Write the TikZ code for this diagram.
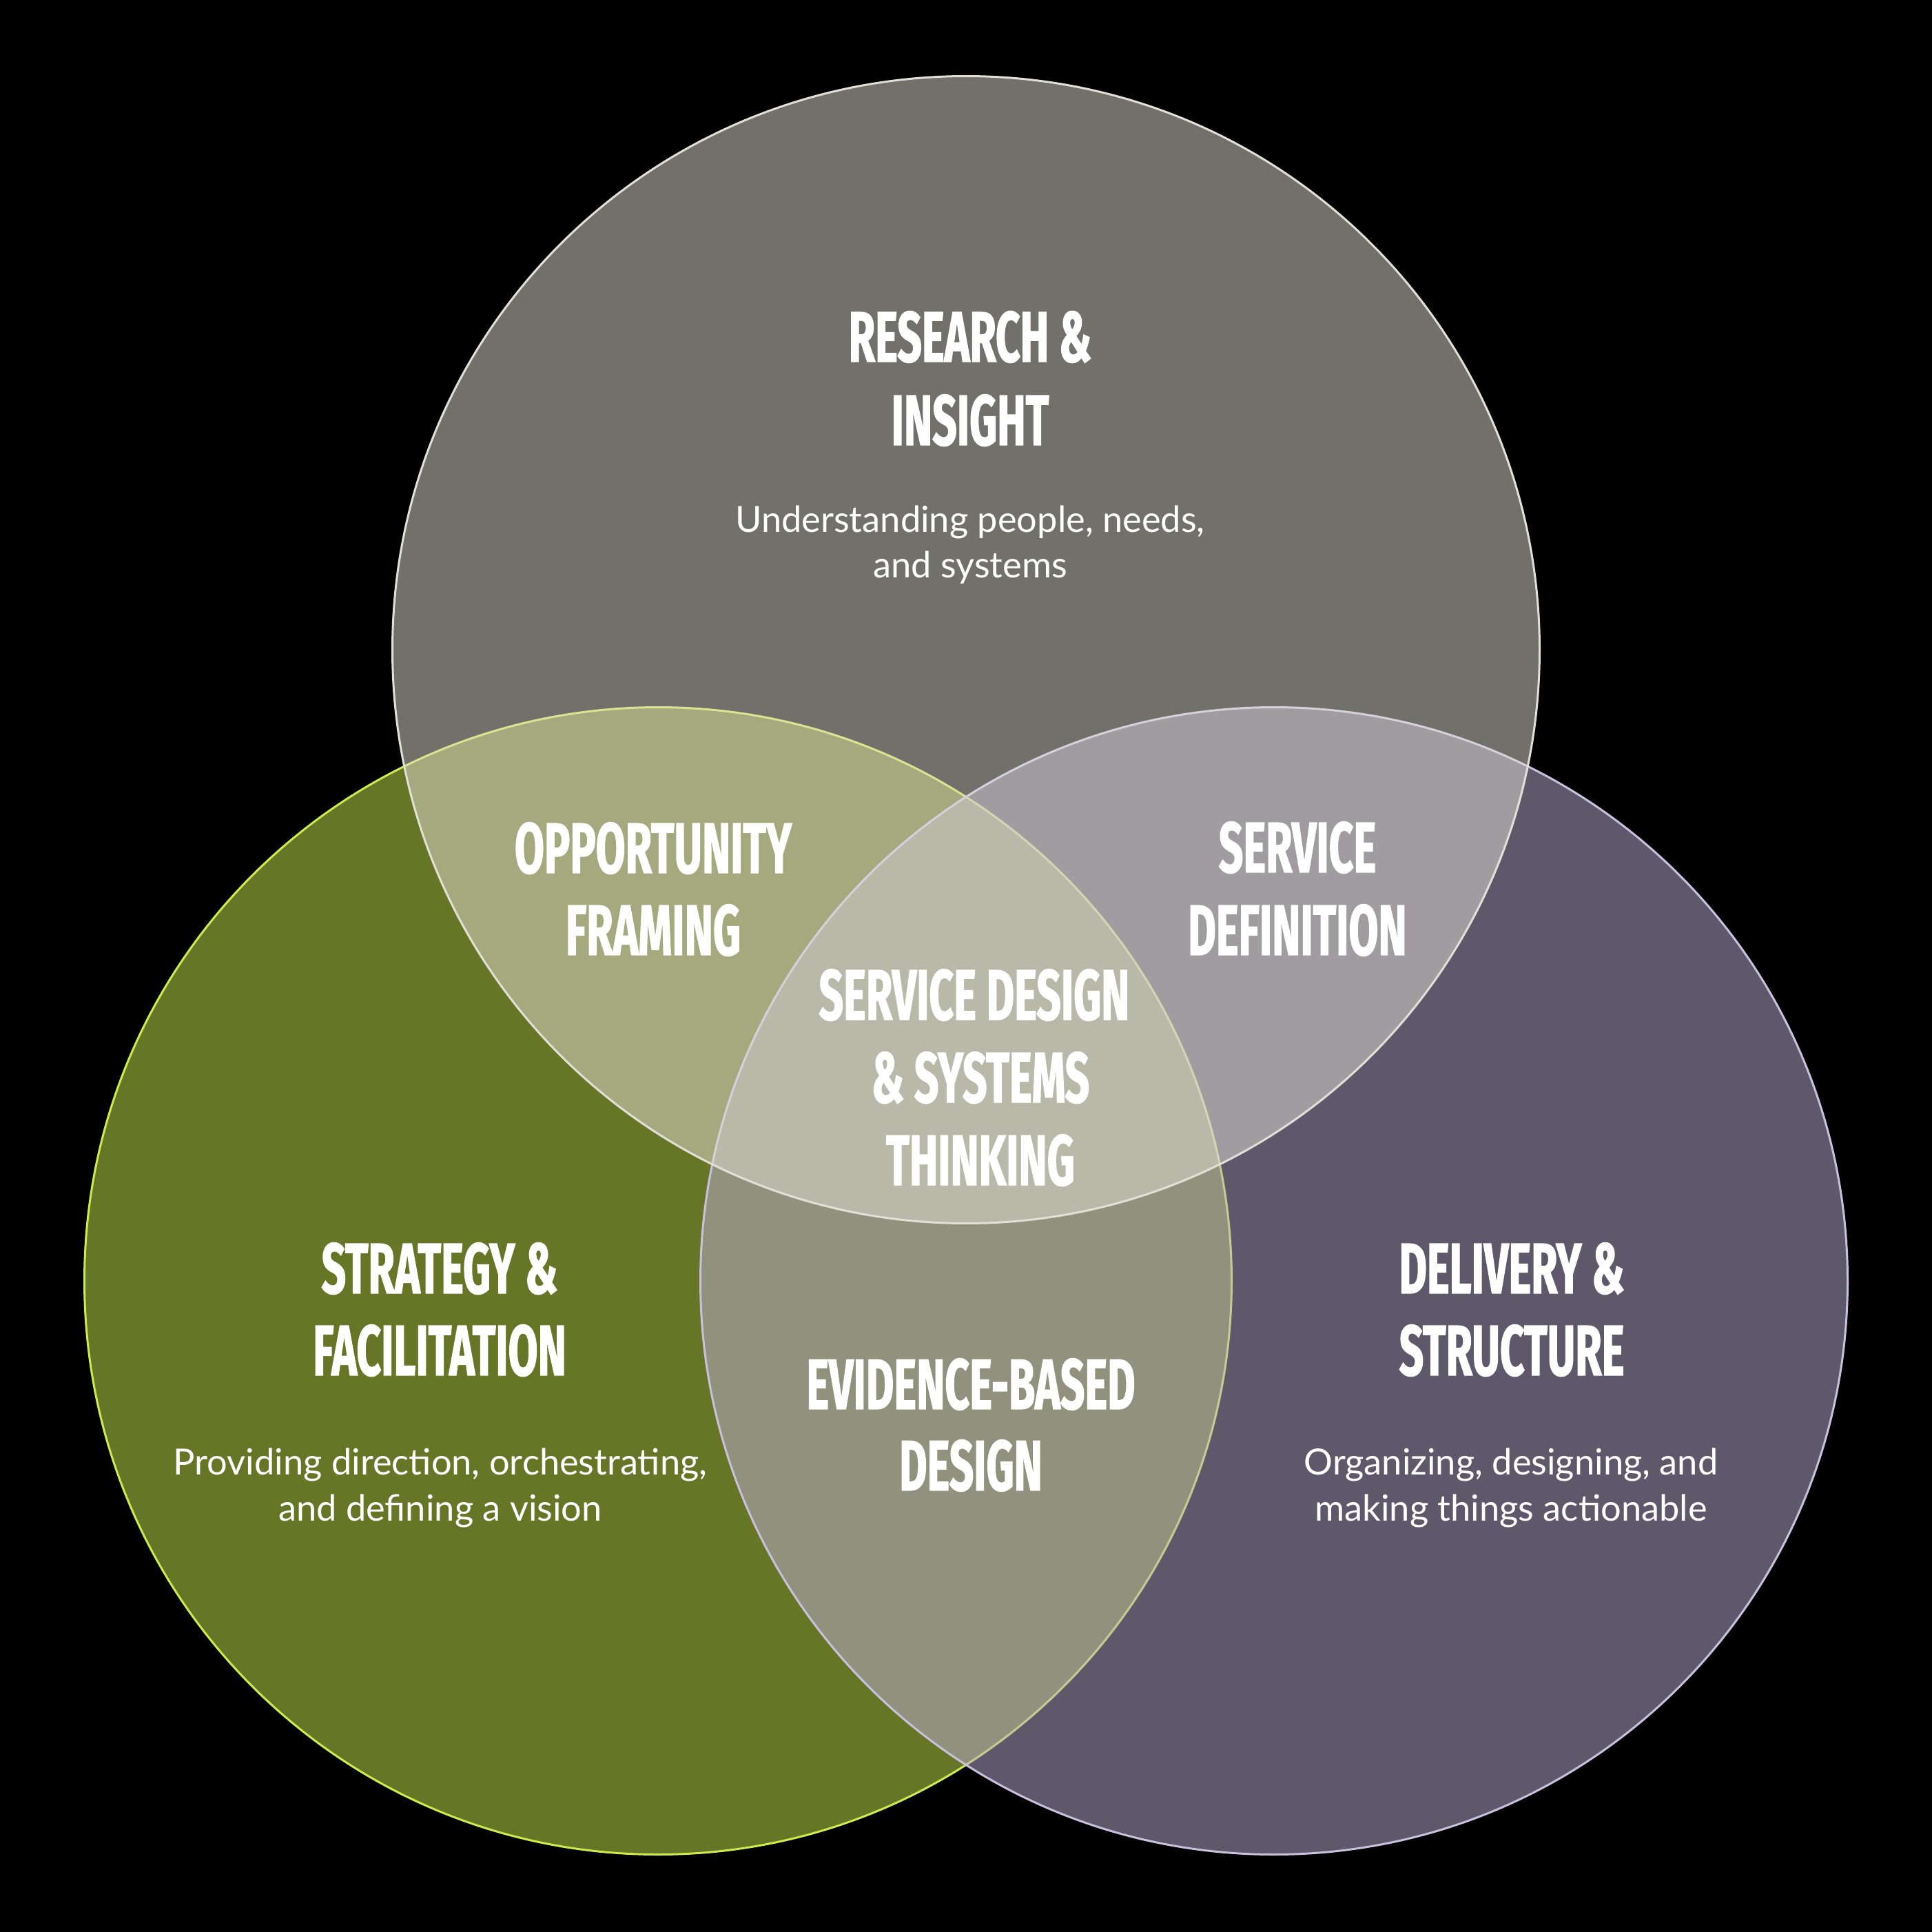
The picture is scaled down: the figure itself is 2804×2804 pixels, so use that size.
\documentclass[tikz,border=0pt]{standalone}
\usepackage{fontspec}
\newfontfamily\titlefont[FakeStretch=0.6,FakeBold=1.2]{Fira Sans}
\newfontfamily\bodyfont{Lato}
\definecolor{cleft}{HTML}{CEEA4E}
\definecolor{cright}{HTML}{BCB0D6}
\definecolor{ctop}{HTML}{E2E0D6}
\begin{document}
\begin{tikzpicture}[x=0.01cm,y=-0.01cm,
  venn/.style={circle, minimum size=16.64cm, inner sep=0pt, outer sep=0pt, line width=0.03cm, fill opacity=0.5},
  ttl/.style={text=white, anchor=base, inner sep=0pt, font=\titlefont\bfseries\fontsize{29.5}{34}\selectfont},
  body/.style={text=white, anchor=base, inner sep=0pt, font=\bodyfont\fontsize{14.9}{19}\selectfont}]
\fill[black] (0,0) rectangle (2804,2804);
\useasboundingbox (0,0) rectangle (2804,2804);
\node[venn, fill=cleft, draw=cleft] (L) at (955,1859) {};
\node[venn, fill=cright, draw=cright!80!white] (R) at (1849,1859) {};
\node[venn, fill=ctop, draw=ctop] (T) at (1402,943) {};
% top
\node[ttl] (t1) at (1408,525) {RESEARCH \&};
\node[ttl] (t2) at (1408,646) {INSIGHT};
\node[body] (b1) at (1408,772) {Understanding people, needs,};
\node[body] (b2) at (1408,838) {and systems};
% opportunity
\node[ttl] (o1) at (948,1267) {OPPORTUNITY};
\node[ttl] (o2) at (948,1386) {FRAMING};
% service definition
\node[ttl] (s1) at (1883,1266) {SERVICE};
\node[ttl] (s2) at (1883,1386) {DEFINITION};
% centre
\node[ttl] (c1) at (1414,1480) {SERVICE DESIGN};
\node[ttl] (c2) at (1423,1600) {\& SYSTEMS};
\node[ttl] (c3) at (1423,1720) {THINKING};
% strategy
\node[ttl] (l1) at (638,1877) {STRATEGY \&};
\node[ttl] (l2) at (638,1996) {FACILITATION};
\node[body] (lb1) at (639,2140) {Providing direction, orchestrating,};
\node[body] (lb2) at (639,2207) {and defining a vision};
% delivery
\node[ttl] (r1) at (2194,1877) {DELIVERY \&};
\node[ttl] (r2) at (2194,1996) {STRUCTURE};
\node[body] (rb1) at (2193,2140) {Organizing, designing, and};
\node[body] (rb2) at (2193,2207) {making things actionable};
% evidence
\node[ttl] (e1) at (1409,2045) {EVIDENCE-BASED};
\node[ttl] (e2) at (1409,2163) {DESIGN};
\end{tikzpicture}
\end{document}
